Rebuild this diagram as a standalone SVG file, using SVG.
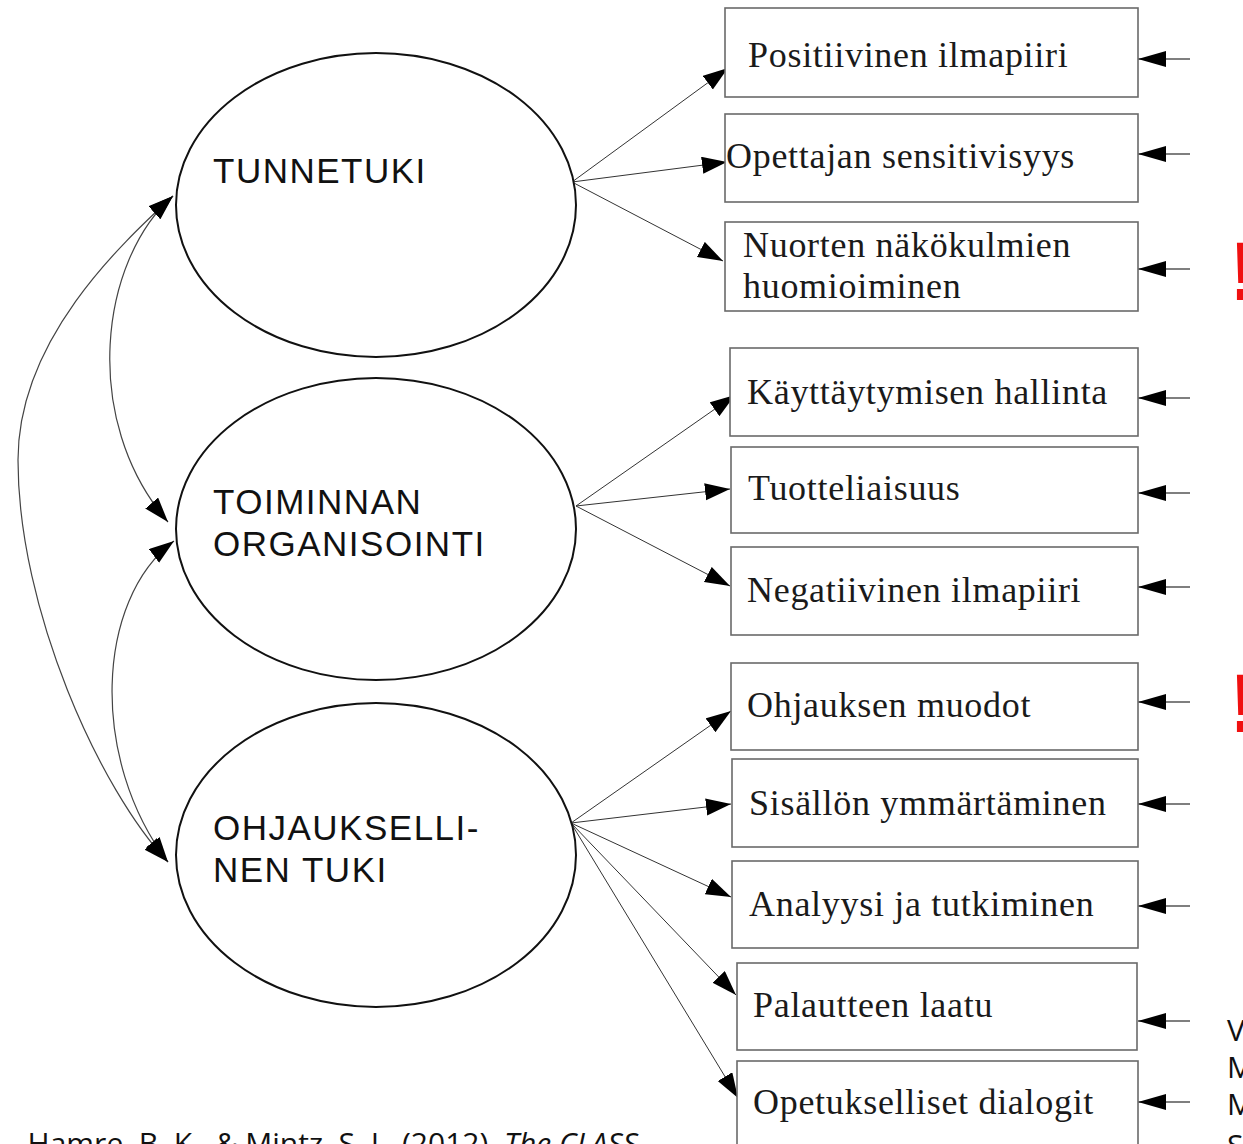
<svg xmlns="http://www.w3.org/2000/svg" width="1243" height="1144" viewBox="0 0 1243 1144">
<style>
.bg{fill:#fff}
.ell{fill:#fff;stroke:#111;stroke-width:2}
.elab{font-family:"Liberation Sans",Arial,sans-serif;font-size:35px;letter-spacing:1.5px;fill:#111}
.box{fill:#fff;stroke:#6a6a6a;stroke-width:1.6}
.blab{font-family:"Liberation Serif","Times New Roman",serif;font-size:36px;letter-spacing:0.7px;fill:#1a1a1a}
.con{fill:none;stroke:#333;stroke-width:1}
.cur{fill:none;stroke:#444;stroke-width:1.2}
.ext{fill:none;stroke:#555;stroke-width:1.3}
.bang{font-family:"Liberation Sans",Arial,sans-serif;font-size:84px;font-weight:bold;fill:#f01010}
.side{font-family:"Open Sans","Liberation Sans",sans-serif;font-size:30px;fill:#111}
.cite{font-family:"Open Sans","Liberation Sans",sans-serif;font-size:30px;fill:#111}
</style>
<defs>
<marker id="ah" markerUnits="userSpaceOnUse" markerWidth="26" markerHeight="18" refX="25" refY="8.5" orient="auto-start-reverse" viewBox="0 0 26 18">
<path d="M0,0 L25,8.5 L0,17 z" fill="#000"/>
</marker>
<marker id="ahr" markerUnits="userSpaceOnUse" markerWidth="30" markerHeight="18" refX="28" refY="8" orient="auto" viewBox="0 0 30 18">
<path d="M0,0 L28,8 L0,16 z" fill="#000"/>
</marker>
</defs>
<rect class="bg" x="0" y="0" width="1243" height="1144"/>

<g id="connectors">
<path class="con" d="M572,182 L728,68" marker-end="url(#ah)"/>
<path class="con" d="M572,182 L727,162" marker-end="url(#ah)"/>
<path class="con" d="M572,182 L723,261" marker-end="url(#ah)"/>
<path class="con" d="M576,506 L735,395" marker-end="url(#ah)"/>
<path class="con" d="M576,506 L730,489" marker-end="url(#ah)"/>
<path class="con" d="M576,506 L730,586" marker-end="url(#ah)"/>
<path class="con" d="M571,823 L731,711" marker-end="url(#ah)"/>
<path class="con" d="M571,823 L731,804" marker-end="url(#ah)"/>
<path class="con" d="M571,823 L731,897" marker-end="url(#ah)"/>
<path class="con" d="M571,823 L736,995" marker-end="url(#ah)"/>
<path class="con" d="M571,823 L738,1098" marker-end="url(#ah)"/>
<path class="cur" d="M173,196 C100,260 80,420 168,522" marker-start="url(#ah)" marker-end="url(#ah)"/>
<path class="cur" d="M174,541 C95,600 90,760 168,862" marker-start="url(#ah)" marker-end="url(#ah)"/>
<path class="cur" d="M173,196 C120,245 18,340 18,460 C18,610 100,790 168,862" marker-start="url(#ah)" marker-end="url(#ah)"/>
<path class="ext" d="M1190,59 L1138,59" marker-end="url(#ahr)"/>
<path class="ext" d="M1190,154 L1138,154" marker-end="url(#ahr)"/>
<path class="ext" d="M1190,269 L1138,269" marker-end="url(#ahr)"/>
<path class="ext" d="M1190,398 L1138,398" marker-end="url(#ahr)"/>
<path class="ext" d="M1190,493 L1138,493" marker-end="url(#ahr)"/>
<path class="ext" d="M1190,587 L1138,587" marker-end="url(#ahr)"/>
<path class="ext" d="M1190,702 L1138,702" marker-end="url(#ahr)"/>
<path class="ext" d="M1190,804 L1138,804" marker-end="url(#ahr)"/>
<path class="ext" d="M1190,906 L1138,906" marker-end="url(#ahr)"/>
<path class="ext" d="M1190,1021 L1138,1021" marker-end="url(#ahr)"/>
<path class="ext" d="M1190,1102 L1138,1102" marker-end="url(#ahr)"/>
</g>

<g id="tunnetuki">
<ellipse class="ell" cx="376" cy="205" rx="200" ry="152"/>
<text class="elab" x="213" y="183">TUNNETUKI</text>
</g>
<g id="toiminnan">
<ellipse class="ell" cx="376" cy="529" rx="200" ry="151"/>
<text class="elab" x="213" y="514">TOIMINNAN</text>
<text class="elab" x="213" y="556">ORGANISOINTI</text>
</g>
<g id="ohjauksellinen">
<ellipse class="ell" cx="376" cy="855" rx="200" ry="152"/>
<text class="elab" x="213" y="840">OHJAUKSELLI-</text>
<text class="elab" x="213" y="882">NEN TUKI</text>
</g>

<g id="b1"><rect class="box" x="725" y="8" width="413" height="89"/><text class="blab" x="748" y="67">Positiivinen ilmapiiri</text></g>
<g id="b2"><rect class="box" x="725" y="114" width="413" height="88"/><text class="blab" x="726" y="168">Opettajan sensitivisyys</text></g>
<g id="b3"><rect class="box" x="725" y="222" width="413" height="89"/><text class="blab" x="743" y="257">Nuorten näkökulmien</text><text class="blab" x="743" y="298">huomioiminen</text></g>
<g id="b4"><rect class="box" x="730" y="348" width="408" height="88"/><text class="blab" x="747" y="404">Käyttäytymisen hallinta</text></g>
<g id="b5"><rect class="box" x="731" y="447" width="407" height="86"/><text class="blab" x="748" y="500">Tuotteliaisuus</text></g>
<g id="b6"><rect class="box" x="731" y="547" width="407" height="88"/><text class="blab" x="747" y="602">Negatiivinen ilmapiiri</text></g>
<g id="b7"><rect class="box" x="731" y="663" width="407" height="87"/><text class="blab" x="747" y="717">Ohjauksen muodot</text></g>
<g id="b8"><rect class="box" x="732" y="759" width="406" height="88"/><text class="blab" x="749" y="815">Sisällön ymmärtäminen</text></g>
<g id="b9"><rect class="box" x="732" y="861" width="406" height="87"/><text class="blab" x="749" y="916">Analyysi ja tutkiminen</text></g>
<g id="b10"><rect class="box" x="737" y="963" width="400" height="87"/><text class="blab" x="753" y="1017">Palautteen laatu</text></g>
<g id="b11"><rect class="box" x="737" y="1061" width="401" height="100"/><text class="blab" x="753" y="1114">Opetukselliset dialogit</text></g>

<text class="bang" x="1229" y="300">!</text>
<text class="bang" x="1229" y="732">!</text>

<text class="side" x="1227" y="1041">V</text>
<text class="side" x="1227" y="1078">M</text>
<text class="side" x="1227" y="1115">M</text>
<text class="side" x="1227" y="1156">S</text>

<text class="cite" x="12" y="1154">, Hamre, B. K., &amp; Mintz, S. L. (2012). <tspan font-style="italic">The CLASS</tspan></text>
</svg>
